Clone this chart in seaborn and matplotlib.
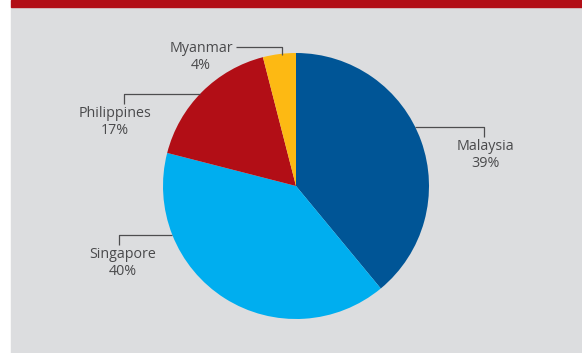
import numpy as np
import matplotlib
matplotlib.use("Agg")
import matplotlib.pyplot as plt
from matplotlib.patches import Rectangle
import seaborn as sns

# Share of total by country
countries = ["Malaysia", "Singapore", "Philippines", "Myanmar"]
shares = [39, 40, 17, 4]
colors = ["#005596", "#00AEEF", "#B20E16", "#FDB913"]

sns.set_style("white")
plt.rcParams["font.family"] = ["Open Sans", "DejaVu Sans"]

W, H = 582, 353
fig = plt.figure(figsize=(W / 100, H / 100), dpi=100, facecolor="white")
ax = fig.add_axes([0, 0, 1, 1])
ax.set_xlim(0, W)
ax.set_ylim(0, H)
ax.set_aspect("equal")
ax.axis("off")

def py(y):
    # convert top-down pixel row to axis y
    return H - y

# panel background and top band
ax.add_patch(Rectangle((11, 0), W - 11, py(7), color="#DCDDDF", zorder=0))
ax.add_patch(Rectangle((11, py(7)), W - 11, 7, color="#B20E16", zorder=0))

cx, cy, R = 296, py(186), 133
palette = sns.color_palette(colors)
ax.pie(shares, colors=palette, startangle=90, counterclock=False,
       center=(cx, cy), radius=R, frame=True,
       wedgeprops=dict(linewidth=0))
ax.set_xlim(0, W)
ax.set_ylim(0, H)
ax.axis("off")

line_kw = dict(color="#4D4D4F", lw=0.9, solid_capstyle="butt")
text_kw = dict(color="#4A4A4C", fontsize=10.3, ha="center", linespacing=1.15)

def edge_x(y, side):
    dy = y - cy
    return cx + side * np.sqrt(R ** 2 - dy ** 2)

labels = [f"{c}\n{s}%" for c, s in zip(countries, shares)]

# Malaysia: elbow to the right of the pie
yl = py(127)
ax.plot([edge_x(yl, 1), 484, 484], [yl, yl, py(137)], **line_kw)
ax.text(485, py(139), labels[0], va="top", **text_kw)

# Singapore: elbow to the left
yl = py(235)
ax.plot([edge_x(yl, -1), 119, 119], [yl, yl, py(245)], **line_kw)
ax.text(123, py(247), labels[1], va="top", **text_kw)

# Philippines: elbow to the left
yl = py(94)
ax.plot([edge_x(yl, -1), 124, 124], [yl, yl, py(104)], **line_kw)
ax.text(115, py(106), labels[2], va="top", **text_kw)

# Myanmar: label left of a line dropping onto the pie top
yl = py(47)
xd = 282
ax.plot([236, xd, xd], [yl, yl, cy + np.sqrt(R ** 2 - (xd - cx) ** 2) - 1.5], **line_kw)
ax.text(201, py(41), labels[3], va="top", **text_kw)

fig.savefig("out.png", dpi=100, facecolor="white")
